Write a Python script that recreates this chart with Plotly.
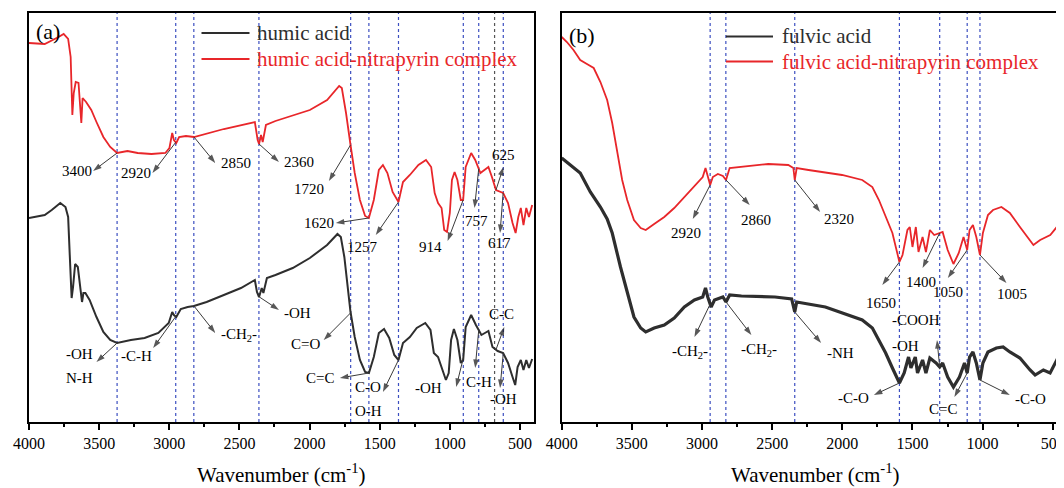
import numpy as np
import plotly.graph_objects as go

# ---------------- data (wavenumber cm-1, transmittance a.u.) ----------------
red_a_wn = [4000,3888,3789,3753,3721,3703,3691,3681,3667,3647,3627,3618,3593,3556,3519,3470,3421,3372,3298,3225,
            3127,3028,2999,2979,2967,2950,2930,2881,2824,2611,2390,2370,2360,2346,2334,2311,2243,1998,1875,1789,
            1770,1740,1708,1678,1641,1604,1577,1542,1506,1477,1445,1408,1366,1334,1285,1224,1170,1133,1108,1084,
            1059,1040,1020,1000,985,966,946,922,905,887,848,819,782,757,725,700,671,620,585,553,
            531,512,494,475,455,436,413]
red_a_y = [379,378,385,388,383,365,307,329,340,339,299,324,320,312,300,285,275,269,271,269,
           268,269,274,289,282,279,285,286,285,293,300,282,278,287,280,297,301,312,322,336,
           334,309,277,249,222,206,204,222,252,257,249,230,220,240,247,257,262,255,229,219,
           214,192,190,209,242,250,242,222,222,255,269,262,249,252,255,245,232,229,219,199,
           189,205,214,197,214,205,217]

black_a_wn = [4000,3888,3838,3777,3740,3721,3711,3696,3686,3671,3652,3637,3622,3612,3598,3568,3519,3470,3421,3372,
              3274,3176,3078,3004,2979,2967,2950,2918,2869,2824,2734,2611,2489,2390,2375,2360,2341,2329,2304,2243,
              2120,1998,1875,1801,1777,1752,1728,1708,1678,1641,1604,1577,1542,1506,1469,1432,1396,1366,1334,1285,
              1236,1175,1138,1114,1084,1052,1028,1008,991,971,946,922,905,887,848,814,775,750,725,696,
              659,620,585,553,534,517,494,475,455,436,413]
black_a_y = [204,207,212,219,215,205,172,124,135,158,155,139,120,129,129,122,105,90,82,79,
             82,84,89,99,110,107,105,113,115,116,120,127,134,142,130,125,134,129,144,147,
             154,164,177,188,185,165,135,110,85,62,50,49,65,89,93,84,67,62,79,85,
             94,99,92,69,65,52,42,49,82,93,82,59,62,95,107,97,87,89,91,75,
             71,69,59,45,37,55,62,52,62,54,63]

red_b_wn = [4000,3963,3916,3868,3808,3772,3724,3676,3640,3605,3569,3533,3485,3437,3401,3341,3269,3198,3126,3054,
            2995,2975,2963,2942,2923,2887,2851,2829,2803,2719,2528,2385,2349,2339,2325,2241,2002,1858,1786,1739,
            1691,1643,1593,1571,1536,1519,1500,1476,1457,1428,1404,1376,1345,1306,1285,1249,1208,1170,1136,1110,
            1093,1069,1045,1019,998,962,926,866,806,734,662,638,590,518,471,452,421]
red_b_y = [385,380,372,362,357,354,340,322,299,269,242,222,202,194,192,198,205,214,225,237,
           245,254,247,237,245,248,246,242,254,255,258,257,254,242,254,252,247,242,235,222,
           205,189,160,167,192,195,175,195,170,185,170,192,187,189,190,172,158,169,185,172,
           192,197,185,167,189,207,212,215,209,195,182,177,182,187,195,205,209]

black_b_wn = [4000,3939,3868,3796,3724,3676,3640,3581,3533,3485,3437,3401,3341,3269,3198,3126,3054,2995,2975,2959,
              2935,2911,2851,2829,2803,2719,2480,2361,2339,2325,2121,1954,1858,1786,1739,1691,1643,1593,1559,1528,
              1511,1480,1464,1428,1404,1376,1332,1306,1285,1249,1208,1165,1129,1110,1093,1069,1045,1019,998,962,
              902,854,806,734,662,626,567,519,471,435,403]
black_b_y = [264,257,249,230,215,203,189,155,129,105,94,90,94,97,104,115,122,125,134,125,
             115,122,125,120,127,126,125,123,110,120,115,107,102,94,82,69,54,39,49,65,
             54,65,49,62,49,64,59,55,59,45,35,45,59,49,65,70,59,42,59,70,
             74,75,70,64,52,47,52,49,62,72,69]

# marked band positions (cm-1)
vlines_a = [3372, 2954, 2825, 2361, 1707, 1577, 1366, 904, 794, 681, 619]
vlines_a_dark = [681]
vlines_b = [2942, 2830, 2339, 1593, 1306, 1110, 1019]

x_ticks = [4000, 3500, 3000, 2500, 2000, 1500, 1000, 500]

names_a = ["humic acid", "humic acid-nitrapyrin complex"]
names_b = ["fulvic acid", "fulvic acid-nitrapyrin complex"]

# band labels: (label, band wn, series, arrow tip wn, tip y, text wn, text y)
labels_a = [
    ("3400", 3372, "red", 3543, 251, 3657, 251),
    ("2920", 2954, "red", 3120, 249, 3240, 249),
    ("2850", 2824, "red", 2672, 259, 2527, 259),
    ("2360", 2360, "red", 2218, 260, 2076, 260),
    ("1720", 1708, "red", 1862, 241, 2005, 233),
    ("1620", 1577, "red", 1813, 199, 1931, 199),
    ("1257", 1366, "red", 1528, 187, 1624, 175),
    ("914", 905, "red", 1016, 181, 1138, 175),
    ("757", 794, "red", 824, 214, 807, 201),
    ("625", 671, "red", 618, 255, 616, 267),
    ("617", 620, "red", 642, 189, 648, 179),
    ("-OH", 3372, "black", 3519, 60, 3642, 68),
    ("-C-H", 2954, "black", 3115, 74, 3237, 66),
    ("-CH<sub>2</sub>-", 2824, "black", 2672, 89, 2500, 87),
    ("-OH", 2361, "black", 2218, 112, 2083, 109),
    ("C=O", 1707, "black", 1899, 82, 2027, 78),
    ("C=C", 1577, "black", 1784, 44, 1929, 44),
    ("C-O", 1366, "black", 1477, 30, 1585, 35),
    ("-OH", 904, "black", 955, 35, 1155, 34),
    ("C-H", 794, "black", 819, 54, 790, 40),
    ("C-C", 671, "black", 612, 95, 635, 108),
    ("-OH", 619, "black", 642, 34, 618, 23),
]
extra_text_a = [("N-H", 3642, 44), ("O-H", 1580, 11)]

labels_b = [
    ("2920", 2942, "red", 3066, 203, 3114, 189),
    ("2860", 2830, "red", 2660, 217, 2612, 202),
    ("2320", 2339, "red", 2158, 210, 2026, 203),
    ("1650", 1593, "red", 1715, 137, 1727, 119),
    ("1400", 1306, "red", 1428, 154, 1440, 140),
    ("1050", 1110, "red", 1248, 144, 1248, 130),
    ("1005", 1019, "red", 830, 139, 789, 128),
    ("-CH<sub>2</sub>-", 2942, "black", 3054, 85, 3085, 70),
    ("-CH<sub>2</sub>-", 2830, "black", 2648, 87, 2595, 72),
    ("-NH", 2339, "black", 2151, 79, 2014, 69),
    ("-C-O", 1593, "black", 1775, 27, 1918, 24),
    ("-COOH", 1306, "black", 1325, 82, 1476, 102),
    ("C=C", 1110, "black", 1201, 25, 1279, 13),
    ("-C-O", 1019, "black", 806, 27, 661, 23),
]
extra_text_b = [("-OH", 1547, 76)]

# ---------------- styling ----------------
FONT = "Liberation Serif, Times New Roman, serif"
RED = "#e8262a"
BLACK = "#2e2e2e"
BLUE = "#3c4fc0"
W, H = 1056, 480      # page body has an 8 px margin
OFF = 8

fig = go.Figure()
fig.add_trace(go.Scatter(x=black_a_wn, y=black_a_y, mode="lines", line=dict(color=BLACK, width=2),
                         name=names_a[0], xaxis="x", yaxis="y", showlegend=False))
fig.add_trace(go.Scatter(x=red_a_wn, y=red_a_y, mode="lines", line=dict(color=RED, width=1.8),
                         name=names_a[1], xaxis="x", yaxis="y", showlegend=False))
fig.add_trace(go.Scatter(x=black_b_wn, y=black_b_y, mode="lines", line=dict(color=BLACK, width=3.2),
                         name=names_b[0], xaxis="x2", yaxis="y2", showlegend=False))
fig.add_trace(go.Scatter(x=red_b_wn, y=red_b_y, mode="lines", line=dict(color=RED, width=1.8),
                         name=names_b[1], xaxis="x2", yaxis="y2", showlegend=False))

series = {
    "a": {"red": (red_a_wn, red_a_y), "black": (black_a_wn, black_a_y)},
    "b": {"red": (red_b_wn, red_b_y), "black": (black_b_wn, black_b_y)},
}

def curve_y(panel, s, wn):
    xs, ys = series[panel][s]
    return float(np.interp(wn, xs[::-1], ys[::-1]))

def px(xp):
    return (xp - OFF) / W

def py(yp):
    return 1 - (yp - OFF) / H

shapes = []
for v in vlines_a:
    shapes.append(dict(type="line", xref="x", yref="y domain", x0=v, x1=v, y0=0, y1=1,
                       line=dict(color="#555555" if v in vlines_a_dark else BLUE, width=1.2, dash="dot"),
                       layer="below"))
for v in vlines_b:
    shapes.append(dict(type="line", xref="x2", yref="y2 domain", x0=v, x1=v, y0=0, y1=1,
                       line=dict(color=BLUE, width=1.2, dash="dot"), layer="below"))

leg = [  # x0, x1, y, color
    (201.5, 249.5, 33, BLACK), (201.5, 249.5, 59, RED),
    (726, 773, 36.5, BLACK), (726, 773, 61.5, RED),
]
for x0, x1, yy, c in leg:
    shapes.append(dict(type="line", xref="paper", yref="paper", x0=px(x0), x1=px(x1), y0=py(yy), y1=py(yy),
                       line=dict(color=c, width=2)))

annotations = []
leg_text = [(names_a[0], 255, 33, BLACK), (names_a[1], 255, 59, RED),
            (names_b[0], 780, 36.5, BLACK), (names_b[1], 780, 62, RED)]
for t, xx, yy, c in leg_text:
    annotations.append(dict(text=t, xref="paper", yref="paper", x=px(xx), y=py(yy), xanchor="left",
                            yanchor="middle", showarrow=False, font=dict(family=FONT, size=21, color=c)))

annotations.append(dict(text="(a)", xref="paper", yref="paper", x=px(47.5), y=py(31), showarrow=False,
                        xanchor="center", yanchor="middle", font=dict(family=FONT, size=22, color="black")))
annotations.append(dict(text="(b)", xref="paper", yref="paper", x=px(582), y=py(35), showarrow=False,
                        xanchor="center", yanchor="middle", font=dict(family=FONT, size=22, color="black")))
for cx in (281.5, 815):
    annotations.append(dict(text="Wavenumber (cm<sup>-1</sup>)", xref="paper", yref="paper", x=px(cx),
                            y=py(473), showarrow=False, xanchor="center", yanchor="middle",
                            font=dict(family=FONT, size=21, color="black")))

def add_labels(lst, extra, panel, xr, yr):
    for lab, band, s, tx, ty, lx, ly in lst:
        # leader line from the band on the spectrum to an arrowhead beside the label
        fig.add_trace(go.Scatter(
            x=[band, tx], y=[curve_y(panel, s, band), ty], xaxis=xr, yaxis=yr,
            mode="lines+markers", showlegend=False, hoverinfo="skip",
            line=dict(color="#3a3a3a", width=1),
            marker=dict(symbol=["circle", "arrow"], size=[0, 9], angleref="previous",
                        color="#111111", line=dict(width=0))))
        annotations.append(dict(text=lab, x=lx, y=ly, xref=xr, yref=yr, showarrow=False,
                                xanchor="center", yanchor="middle",
                                font=dict(family=FONT, size=15, color="black")))
    for lab, lx, ly in extra:
        annotations.append(dict(text=lab, x=lx, y=ly, xref=xr, yref=yr, showarrow=False,
                                xanchor="center", yanchor="middle",
                                font=dict(family=FONT, size=15, color="black")))

add_labels(labels_a, extra_text_a, "a", "x", "y")
add_labels(labels_b, extra_text_b, "b", "x2", "y2")

ydom = [py(422), py(13)]
axis_common = dict(showgrid=False, zeroline=False, showline=True, linecolor="black", linewidth=1.5,
                   automargin=False, ticklabeloverflow="allow",
                   ticks="outside", ticklen=6, tickwidth=1.5, tickcolor="black",
                   tickmode="array", tickvals=x_ticks,
                   minor=dict(ticks="outside", ticklen=3, tickwidth=1.5, tickcolor="black", dtick=250, tick0=0),
                   tickfont=dict(family=FONT, size=16, color="black"))
yaxis_common = dict(showgrid=False, zeroline=False, showline=True, linecolor="black", linewidth=1.5,
                    automargin=False, showticklabels=False, ticks="", range=[0, 409], domain=ydom)

fig.update_layout(
    template="none",
    width=W, height=H,
    margin=dict(l=0, r=0, t=0, b=0, autoexpand=False),
    paper_bgcolor="white", plot_bgcolor="white",
    xaxis=dict(axis_common, domain=[px(29), px(534)], range=[4000, 400], mirror=True, anchor="y"),
    yaxis=dict(yaxis_common, mirror=True, anchor="x"),
    xaxis2=dict(axis_common, domain=[px(561.7), 1.0], range=[4000, 420], mirror=True, anchor="y2"),
    yaxis2=dict(yaxis_common, mirror=False, anchor="x2"),
    shapes=shapes,
    annotations=annotations,
    showlegend=False,
)

fig.write_html("out.html")
